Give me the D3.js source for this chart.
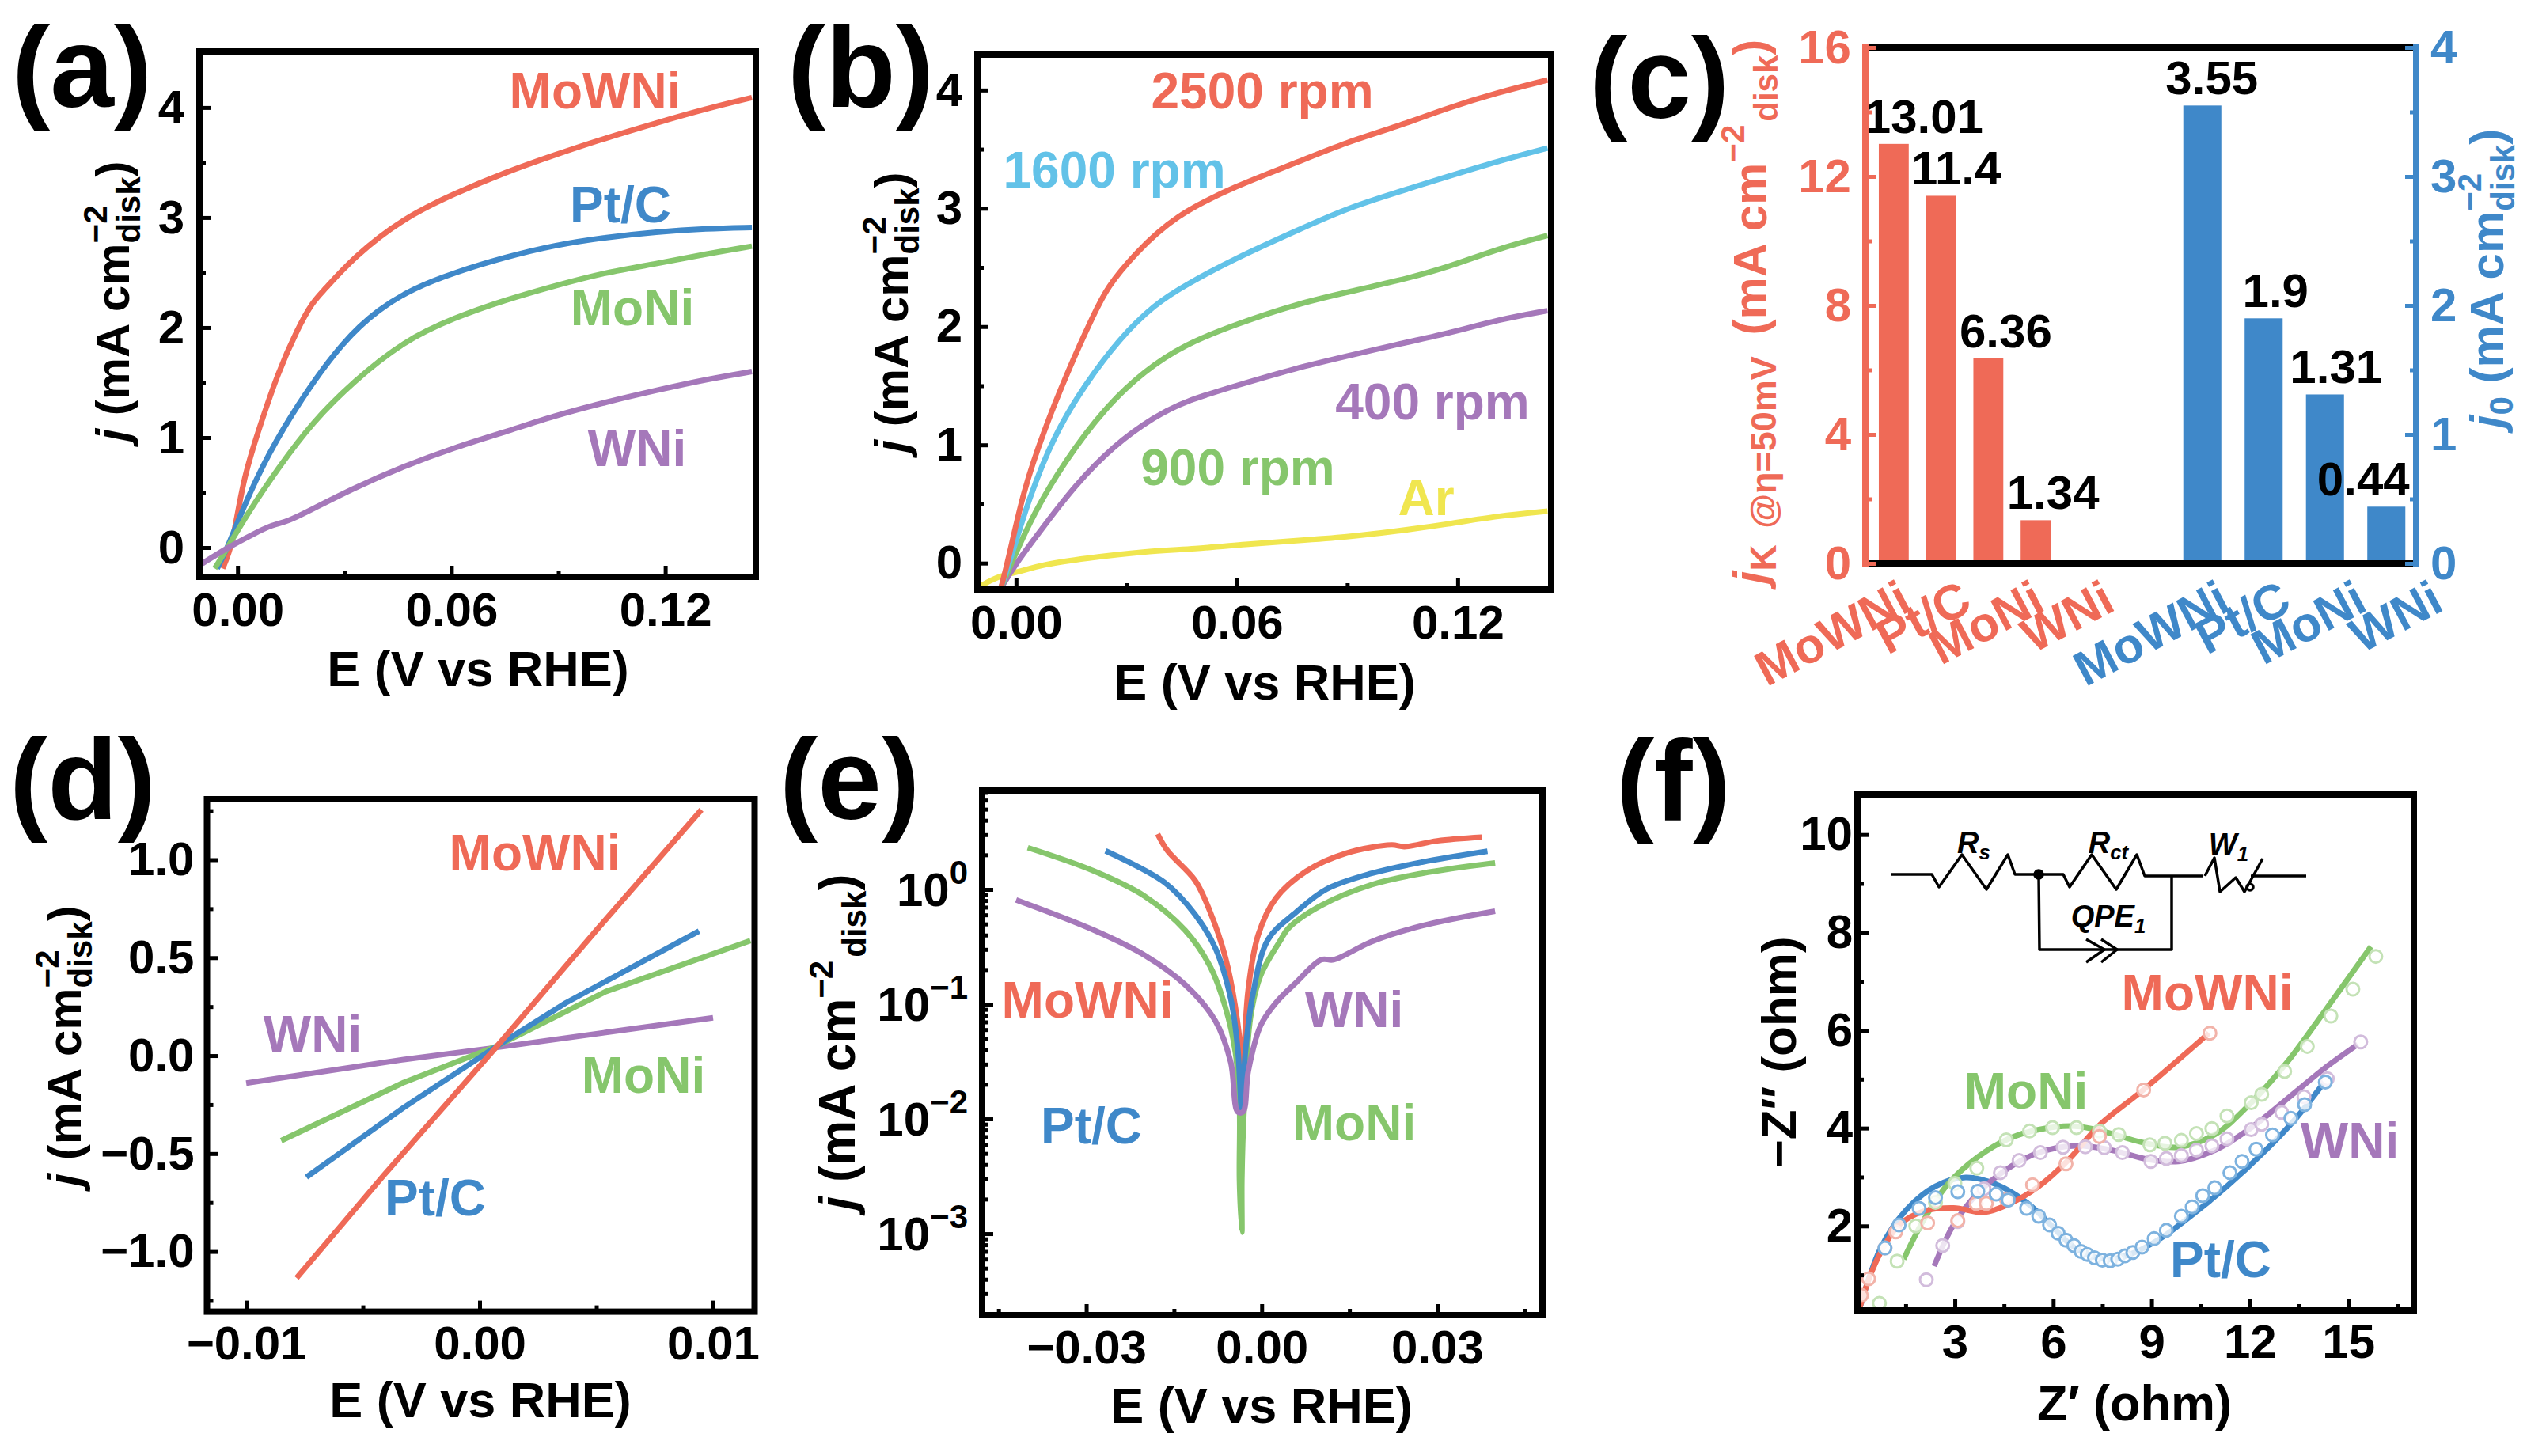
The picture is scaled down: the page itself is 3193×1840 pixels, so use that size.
<!DOCTYPE html>
<html>
<head>
<meta charset="utf-8">
<script src="https://cdn.jsdelivr.net/npm/d3@7"></script>
<style>
  html, body { margin: 0; padding: 0; background: #fff; }
  svg { display: block; }
  text { font-family: "Liberation Sans", Arial, sans-serif; font-weight: bold; }
</style>
</head>
<body>
<script>
// panel (a) E vs j
var aMoWNi = [[-0.0042,-0.19],[-0.0014,0.02],[0.0014,0.6],[0.0057,1.05],[0.0113,1.59],[0.017,2.0],[0.021,2.23],[0.024,2.33],[0.0325,2.64],[0.0467,3.0],[0.061,3.22],[0.075,3.41],[0.089,3.57],[0.103,3.72],[0.1175,3.86],[0.1316,3.99],[0.1443,4.09]];
var aPtC = [[-0.0057,-0.19],[-0.0028,0],[0.0014,0.35],[0.0085,0.85],[0.0184,1.38],[0.0297,1.88],[0.0396,2.17],[0.0495,2.36],[0.0608,2.5],[0.075,2.64],[0.089,2.75],[0.103,2.82],[0.1175,2.87],[0.1316,2.9],[0.1443,2.91]];
var aMoNi = [[-0.0064,-0.19],[-0.0028,0],[0.0028,0.31],[0.0113,0.72],[0.021,1.14],[0.0325,1.51],[0.0467,1.88],[0.0608,2.09],[0.075,2.25],[0.089,2.38],[0.103,2.5],[0.1175,2.58],[0.1316,2.67],[0.1443,2.74]];
var aWNi = [[-0.0099,-0.145],[-0.0028,0],[0.0042,0.12],[0.0099,0.21],[0.014,0.235],[0.021,0.35],[0.0325,0.54],[0.0467,0.74],[0.0608,0.91],[0.075,1.05],[0.089,1.2],[0.103,1.32],[0.1175,1.43],[0.1316,1.53],[0.1443,1.6]];

// panel (b) rotation speeds
var b2500 = [[-0.0041,-0.21],[-0.002,0.04],[0.002,0.615],[0.0075,1.115],[0.0144,1.65],[0.0213,2.115],[0.0247,2.33],[0.0322,2.615],[0.0432,2.94],[0.0597,3.19],[0.0761,3.385],[0.0898,3.56],[0.1035,3.69],[0.1173,3.85],[0.131,3.98],[0.1444,4.085]];
var b1600 = [[-0.0041,-0.21],[-0.0014,0.04],[0.0034,0.54],[0.0103,1.08],[0.0185,1.5],[0.0281,1.9],[0.0377,2.19],[0.0459,2.35],[0.0597,2.58],[0.0761,2.81],[0.0898,3.0],[0.1035,3.135],[0.1173,3.27],[0.131,3.4],[0.1444,3.51]];
var b900 = [[-0.0041,-0.21],[-0.0007,0.04],[0.0048,0.42],[0.013,0.85],[0.024,1.31],[0.035,1.63],[0.0459,1.85],[0.0597,2.02],[0.0761,2.19],[0.0898,2.29],[0.1035,2.385],[0.1173,2.5],[0.131,2.66],[0.1444,2.77]];
var b400 = [[-0.0041,-0.21],[0,0],[0.0075,0.31],[0.0158,0.65],[0.0267,1.0],[0.0377,1.24],[0.0459,1.37],[0.0597,1.5],[0.0761,1.65],[0.0898,1.75],[0.1035,1.85],[0.1173,1.94],[0.131,2.06],[0.1444,2.135]];
var bAr = [[-0.01,-0.2],[-0.0048,-0.11],[0,-0.08],[0.0075,-0.01],[0.0185,0.04],[0.035,0.1],[0.0487,0.12],[0.0624,0.16],[0.0761,0.19],[0.0898,0.22],[0.1035,0.27],[0.1173,0.33],[0.131,0.4],[0.1444,0.44]];

// panel (c) bars
var cCategories = ["MoWNi", "Pt/C", "MoNi", "WNi"];
var cKinetic = [13.01, 11.4, 6.36, 1.34];
var cExchange = [3.55, 1.9, 1.31, 0.44];
var cKineticText = ["13.01", "11.4", "6.36", "1.34"];
var cExchangeText = ["3.55", "1.9", "1.31", "0.44"];

// panel (d) micro polarization
var dMoWNi = [[-0.00784,-1.135],[-0.0041,-0.61],[0.00076,0.05],[0.005,0.64],[0.0095,1.255]];
var dPtC = [[-0.00742,-0.62],[-0.00325,-0.265],[0.00076,0.05],[0.0037,0.27],[0.0094,0.636]];
var dMoNi = [[-0.0085,-0.434],[-0.00325,-0.137],[0.00076,0.05],[0.0054,0.327],[0.0116,0.587]];
var dWNi = [[-0.01,-0.14],[-0.00325,-0.02],[0.00076,0.042],[0.0054,0.118],[0.01,0.193]];

// panel (e) Tafel, runs down the left branch and back up the right one
var eMoWNi = [[-0.0178,3.04],[-0.0161,2.17],[-0.0114,1.2],[-0.0088,0.634],[-0.0062,0.255],[-0.0045,0.0936],[-0.0036,0.038],[-0.0034,0.0115],[-0.003,0.038],[-0.0023,0.135],[-0.0006,0.402],[0.0024,0.834],[0.0076,1.44],[0.0145,2.07],[0.0222,2.44],[0.0244,2.36],[0.03,2.65],[0.0376,2.85]];
var ePtC = [[-0.0267,2.17],[-0.0166,1.15],[-0.0114,0.606],[-0.0079,0.306],[-0.0053,0.112],[-0.0041,0.0412],[-0.0034,0.0115],[-0.0028,0.038],[-0.0015,0.123],[0.0011,0.367],[0.0059,0.634],[0.011,1.0],[0.0188,1.38],[0.0274,1.73],[0.0386,2.15]];
var eMoNi = [[-0.04,2.31],[-0.0286,1.44],[-0.02,0.873],[-0.0131,0.44],[-0.0088,0.212],[-0.0062,0.0935],[-0.0045,0.038],[-0.0038,0.0126],[-0.0038,0.00293],[-0.0034,0.00103],[-0.0034,0.00293],[-0.003,0.0126],[-0.0019,0.078],[-0.0002,0.177],[0.0033,0.367],[0.0046,0.461],[0.0102,0.726],[0.0188,1.1],[0.0274,1.38],[0.0399,1.7]];
var eWNi = [[-0.042,0.811],[-0.0286,0.44],[-0.02,0.267],[-0.0131,0.148],[-0.0079,0.0711],[-0.0053,0.0313],[-0.0041,0.0115],[-0.0032,0.0115],[-0.0023,0.0261],[-0.0002,0.065],[0.0024,0.1025],[0.0059,0.155],[0.0102,0.244],[0.0123,0.244],[0.0188,0.351],[0.0274,0.482],[0.0399,0.646]];

// panel (f) Nyquist fits
var fMoWNi = [[0.09,0.3],[0.37,0.9],[0.74,1.46],[1.3,2.02],[2.04,2.3],[2.96,2.37],[3.89,2.28],[4.63,2.44],[5.56,2.81],[6.48,3.36],[7.41,4.06],[8.71,4.76],[10.75,5.94]];
var fPtC = [[0.09,0.3],[0.74,1.55],[1.48,2.3],[2.41,2.81],[3.33,2.99],[4.26,2.85],[5.19,2.48],[5.93,2.02],[6.67,1.55],[7.6,1.32],[8.34,1.42],[9.26,1.74],[10.19,2.2],[11.3,2.81],[12.41,3.5],[13.34,4.15],[14.27,4.94]];
var fMoNi = [[1.44,1.32],[2.04,2.11],[2.78,2.85],[3.7,3.41],[4.63,3.78],[5.56,3.97],[6.67,4.04],[7.6,3.92],[8.71,3.71],[9.82,3.61],[10.93,3.87],[12.04,4.52],[13.15,5.36],[14.27,6.38],[15.69,7.71]];
var fWNi = [[2.37,1.18],[2.96,2.02],[3.7,2.67],[4.63,3.18],[5.56,3.5],[6.67,3.64],[7.78,3.55],[8.89,3.36],[9.82,3.32],[10.93,3.55],[12.04,4.01],[13.34,4.71],[14.27,5.22],[15.29,5.71]];

// panel (f) measured points
var fMoWNiPts = [[0.15,0.58],[0.37,0.92],[0.87,1.55],[1.2,1.88],[2.17,2.06],[3.09,2.11],[3.65,2.46],[3.96,2.46],[4.57,2.55],[5.37,2.84],[6.39,3.27],[7.41,3.83],[8.76,4.78],[10.78,5.94]];
var fPtCPts = [[0.87,1.55],[1.3,2.02],[1.91,2.36],[2.41,2.58],[3.09,2.7],[3.7,2.71],[4.26,2.65],[4.63,2.53],[5.19,2.36],[5.56,2.2],[5.89,2.02],[6.15,1.85],[6.39,1.71],[6.63,1.6],[6.85,1.48],[7.04,1.42],[7.26,1.35],[7.5,1.3],[7.74,1.29],[7.97,1.32],[8.19,1.39],[8.43,1.46],[8.71,1.57],[9.08,1.74],[9.45,1.91],[9.91,2.2],[10.24,2.39],[10.56,2.62],[10.93,2.78],[11.39,3.09],[11.76,3.32],[12.19,3.57],[12.69,3.86],[13.25,4.2],[13.67,4.48],[14.3,4.94]];
var fMoNiPts = [[0.7,0.42],[1.24,1.28],[1.81,2.0],[2.41,2.48],[3,2.87],[3.67,3.18],[4.57,3.76],[5.28,3.94],[5.98,4.01],[6.71,4.01],[7.41,3.94],[8,3.87],[8.95,3.66],[9.41,3.69],[9.91,3.75],[10.37,3.89],[10.84,3.99],[11.3,4.25],[12.04,4.52],[12.36,4.69],[13.06,5.16],[13.75,5.67],[14.47,6.29],[15.14,6.84],[15.84,7.51]];
var fWNiPts = [[2.13,0.9],[2.63,1.6],[3.09,2.09],[3.7,2.71],[3.89,2.76],[4.39,3.09],[4.96,3.34],[5.61,3.5],[6.3,3.61],[6.98,3.62],[7.56,3.6],[8.11,3.5],[8.98,3.32],[9.45,3.38],[9.91,3.44],[10.37,3.55],[10.84,3.64],[11.3,3.78],[12.04,3.97],[12.36,4.08],[12.97,4.32],[13.65,4.64],[14.36,5.01],[15.38,5.76]];

var RED = "#ef6a57", BLUE = "#3f88c9", GREEN = "#86c66c", PURPLE = "#a578ba", CYAN = "#62c2e8", YELLOW = "#f0e64f";

var svg = d3.select("body").append("svg")
  .attr("width", 3193)
  .attr("height", 1840)
  .attr("viewBox", "0 0 3193 1840");

var FS = 60;

function panelLabel(txt, x, y) {
  svg.append("text").attr("x", x).attr("y", y).attr("font-size", 145).attr("fill", "#000").text(txt);
}

function note(txt, x, y, color) {
  svg.append("text").attr("x", x).attr("y", y + 22).attr("text-anchor", "middle")
    .attr("font-size", 64).attr("fill", color).text(txt);
}

// rotated title made of tspans, dx and dy are relative like in svg
function rotated(parts, x, y, size, color) {
  var t = svg.append("text")
    .attr("transform", "translate(" + x + "," + y + ") rotate(-90)")
    .attr("text-anchor", "middle").attr("font-size", size).attr("fill", color);
  parts.forEach(function(p) {
    var s = t.append("tspan").text(p.t);
    if (p.i) s.attr("font-style", "italic");
    if (p.s) s.attr("font-size", p.s);
    if (p.dy) s.attr("dy", p.dy);
    if (p.dx) s.attr("dx", p.dx);
  });
}

// -2 sits over "disk" in most panels, next to it in (c) left and (e)
var mAdisk = [
  { t: " (mA cm" },
  { t: "\u22122", s: 42, dy: -28 },
  { t: "disk", s: 42, dy: 42, dx: -48 },
  { t: ")", dy: -14 }
];
var mAdiskFlat = [
  { t: " (mA cm" },
  { t: "\u22122", s: 42, dy: -28 },
  { t: "disk", s: 42, dy: 42, dx: 4 },
  { t: ")", dy: -14 }
];

function styleAxis(g, color) {
  g.selectAll(".domain").remove();
  g.selectAll("line").attr("stroke", color).attr("stroke-width", 5);
  g.selectAll("text").attr("font-size", FS).attr("fill", color)
    .attr("font-family", "Liberation Sans").attr("font-weight", "bold");
}

// frame, inward ticks, labels and axis title
function frame(o) {
  var x = o.x, y = o.y;
  var r = x.range(), b = y.range();
  var xg = svg.append("g").attr("transform", "translate(0," + b[0] + ")");
  xg.call(d3.axisBottom(x).tickValues(o.xTicks).tickSize(-14).tickPadding(o.xPad)
    .tickFormat(function(d) { return d3.format(o.xFmt)(d).replace("-", "\u2212"); }));
  styleAxis(xg, "#000");
  var xm = svg.append("g").attr("transform", "translate(0," + b[0] + ")");
  xm.call(d3.axisBottom(x).tickValues(o.xMinor).tickSize(-8).tickFormat(""));
  styleAxis(xm, "#000");
  var yg = svg.append("g").attr("transform", "translate(" + r[0] + ",0)");
  yg.call(d3.axisLeft(y).tickValues(o.yTicks).tickSize(-14).tickPadding(o.yPad)
    .tickFormat(o.yFmt || function(d) { return d3.format(o.yFmtS)(d).replace("-", "\u2212"); }));
  styleAxis(yg, "#000");
  var ym = svg.append("g").attr("transform", "translate(" + r[0] + ",0)");
  ym.call(d3.axisLeft(y).tickValues(o.yMinor).tickSize(-8).tickFormat(""));
  styleAxis(ym, "#000");
  svg.append("rect").attr("x", r[0]).attr("y", b[1]).attr("width", r[1] - r[0]).attr("height", b[0] - b[1])
    .attr("fill", "none").attr("stroke", "#000").attr("stroke-width", 8);
  svg.append("text").attr("x", o.xTitleX).attr("y", o.xTitleY).attr("text-anchor", "middle")
    .attr("font-size", 63).attr("fill", "#000").text(o.xTitle);
}

function curves(list, x, y, width, curve) {
  var line = d3.line().x(function(d) { return x(d[0]); }).y(function(d) { return y(d[1]); }).curve(curve);
  list.forEach(function(s) {
    svg.append("path").attr("d", line(s.data)).attr("fill", "none")
      .attr("stroke", s.color).attr("stroke-width", width)
      .attr("stroke-linejoin", "round");
  });
}

/* ---------- (a) ---------- */
var ax = d3.scaleLinear().domain([-0.0107, 0.1454]).range([252, 955]);
var ay = d3.scaleLinear().domain([-0.266, 4.51]).range([729, 65]);
curves([
  { data: aMoWNi, color: RED }, { data: aPtC, color: BLUE },
  { data: aMoNi, color: GREEN }, { data: aWNi, color: PURPLE }
], ax, ay, 7, d3.curveBasis);
frame({ x: ax, y: ay, xTicks: [0, 0.06, 0.12], xMinor: [0.03, 0.09], xFmt: ".2f", xPad: 19,
  yTicks: [0, 1, 2, 3, 4], yMinor: [0.5, 1.5, 2.5, 3.5], yFmtS: "d", yPad: 19,
  xTitle: "E (V vs RHE)", xTitleX: 604, xTitleY: 867 });
rotated([{ t: "j", i: 1 }].concat(mAdisk), 163, 381, FS, "#000");
note("MoWNi", 752, 115, RED); note("Pt/C", 784, 259, BLUE);
note("MoNi", 799, 389, GREEN); note("WNi", 805, 567, PURPLE);
panelLabel("(a)", 15, 135);

/* ---------- (b) ---------- */
var bx = d3.scaleLinear().domain([-0.0105, 0.1454]).range([1235, 1960]);
var by = d3.scaleLinear().domain([-0.223, 4.3]).range([745, 69]);
curves([
  { data: bAr, color: YELLOW }, { data: b400, color: PURPLE }, { data: b900, color: GREEN },
  { data: b1600, color: CYAN }, { data: b2500, color: RED }
], bx, by, 7, d3.curveBasis);
frame({ x: bx, y: by, xTicks: [0, 0.06, 0.12], xMinor: [0.03, 0.09], xFmt: ".2f", xPad: 19,
  yTicks: [0, 1, 2, 3, 4], yMinor: [0.5, 1.5, 2.5, 3.5], yFmtS: "d", yPad: 19,
  xTitle: "E (V vs RHE)", xTitleX: 1598, xTitleY: 884 });
rotated([{ t: "j", i: 1 }].concat(mAdisk), 1147, 395, FS, "#000");
note("2500 rpm", 1595, 115, RED); note("1600 rpm", 1408, 215, CYAN);
note("400 rpm", 1810, 508, PURPLE); note("900 rpm", 1564, 591, GREEN); note("Ar", 1802, 629, YELLOW);
panelLabel("(b)", 995, 135);

/* ---------- (c) ---------- */
var cL = 2357, cR = 3053, cT = 60, cB = 712;
var cyL = d3.scaleLinear().domain([0, 16]).range([cB, cT]);
var cyR = d3.scaleLinear().domain([0, 4]).range([cB, cT]);
var cxL = d3.scaleBand().domain(cCategories).range([2363, 2602]).paddingInner(0.367).paddingOuter(0.1835);
var cxR = d3.scaleBand().domain(cCategories).range([2744, 3054]).paddingInner(0.38).paddingOuter(0.19);

function bars(vals, texts, xs, ys, color, nudges, shifts) {
  svg.selectAll(null).data(vals).enter().append("rect")
    .attr("x", function(d, i) { return xs(cCategories[i]); })
    .attr("y", function(d) { return ys(d); })
    .attr("width", xs.bandwidth())
    .attr("height", function(d) { return ys(0) - ys(d); })
    .attr("fill", color);
  svg.selectAll(null).data(vals).enter().append("text")
    .attr("x", function(d, i) { return xs(cCategories[i]) + xs.bandwidth() / 2 + nudges[i]; })
    .attr("y", function(d) { return ys(d) - 14; })
    .attr("text-anchor", "middle").attr("font-size", FS).attr("fill", "#000")
    .text(function(d, i) { return texts[i]; });
  cCategories.forEach(function(c, i) {
    svg.append("text")
      .attr("transform", "translate(" + (xs(c) + xs.bandwidth() / 2 + shifts[i]) + ",770) rotate(-28)")
      .attr("text-anchor", "end").attr("font-size", 62).attr("fill", color).text(c);
  });
}
bars(cKinetic, cKineticText, cxL, cyL, RED, [38, 19, 22, 22], [25, 42, 74, 103]);
bars(cExchange, cExchangeText, cxR, cyR, BLUE, [12, 15, 14, -29], [38, 38, 56, 75]);

svg.append("line").attr("x1", cL).attr("x2", cR).attr("y1", cT).attr("y2", cT).attr("stroke", "#000").attr("stroke-width", 8);
svg.append("line").attr("x1", cL).attr("x2", cR).attr("y1", cB).attr("y2", cB).attr("stroke", "#000").attr("stroke-width", 8);

function cAxis(side, scale, ticks, minor, xpos, color) {
  var g = svg.append("g").attr("transform", "translate(" + xpos + ",0)");
  g.call(side(scale).tickValues(ticks).tickSize(-14).tickPadding(18).tickFormat(d3.format("d")));
  styleAxis(g, color);
  var m = svg.append("g").attr("transform", "translate(" + xpos + ",0)");
  m.call(side(scale).tickValues(minor).tickSize(-8).tickFormat(""));
  styleAxis(m, color);
  svg.append("line").attr("x1", xpos).attr("x2", xpos).attr("y1", cT - 4).attr("y2", cB + 4)
    .attr("stroke", color).attr("stroke-width", 8);
}
cAxis(d3.axisLeft, cyL, [0, 4, 8, 12, 16], [2, 6, 10, 14], cL, RED);
cAxis(d3.axisRight, cyR, [0, 1, 2, 3, 4], [0.5, 1.5, 2.5, 3.5], cR, BLUE);

rotated([
  { t: "j", i: 1 }, { t: "K", s: 46, dy: 12 }, { t: " @\u03b7=50mV", s: 45, dx: 8 },
  { t: " (mA cm", dy: -12, dx: 10 },
  { t: "\u22122", s: 42, dy: -28 },
  { t: "disk", s: 42, dy: 42, dx: 4 },
  { t: ")", dy: -14 }
], 2232, 394, FS, RED);
rotated([
  { t: "j", i: 1 }, { t: "0", s: 42, dy: 12 },
  { t: " (mA cm", dy: -12 },
  { t: "\u22122", s: 42, dy: -28 },
  { t: "disk", s: 42, dy: 42, dx: -48 },
  { t: ")", dy: -14 }
], 3163, 352, FS, BLUE);
panelLabel("(c)", 2008, 149);

/* ---------- (d) ---------- */
var dx = d3.scaleLinear().domain([-0.01168, 0.01178]).range([261.5, 953.5]);
var dy = d3.scaleLinear().domain([-1.307, 1.309]).range([1657.6, 1010]);
curves([
  { data: dWNi, color: PURPLE }, { data: dMoNi, color: GREEN },
  { data: dPtC, color: BLUE }, { data: dMoWNi, color: RED }
], dx, dy, 7, d3.curveLinear);
frame({ x: dx, y: dy, xTicks: [-0.01, 0, 0.01], xMinor: [-0.005, 0.005], xFmt: ".2f", xPad: 18,
  yTicks: [-1, -0.5, 0, 0.5, 1], yMinor: [-1.25, -0.75, -0.25, 0.25, 0.75, 1.25], yFmtS: ".1f", yPad: 16,
  xTitle: "E (V vs RHE)", xTitleX: 607, xTitleY: 1791 });
rotated([{ t: "j", i: 1 }].concat(mAdisk), 102, 1322, FS, "#000");
note("MoWNi", 676, 1078, RED); note("WNi", 395, 1307, PURPLE);
note("MoNi", 813, 1359, GREEN); note("Pt/C", 550, 1514, BLUE);
panelLabel("(d)", 12, 1035);

/* ---------- (e) ---------- */
var ex = d3.scaleLinear().domain([-0.0478, 0.048]).range([1241, 1949]);
var ey = d3.scaleLog().domain([Math.pow(10, -3.71), Math.pow(10, 0.862)]).range([1662, 999]);
var eDecades = [1, 0.1, 0.01, 0.001];
var eMinor = ey.ticks().filter(function(d) { return eDecades.indexOf(d) < 0; });
curves([
  { data: eMoNi, color: GREEN }, { data: eMoWNi, color: RED },
  { data: ePtC, color: BLUE }, { data: eWNi, color: PURPLE }
], ex, ey, 7, d3.curveCatmullRom.alpha(0.5));
frame({ x: ex, y: ey, xTicks: [-0.03, 0, 0.03], xMinor: [-0.045, -0.015, 0.015, 0.045], xFmt: ".2f", xPad: 18,
  yTicks: eDecades, yMinor: eMinor, yFmt: function() { return ""; }, yPad: 18,
  xTitle: "E (V vs RHE)", xTitleX: 1594, xTitleY: 1798 });
eDecades.forEach(function(d) {
  var t = svg.append("text").attr("x", 1223).attr("y", ey(d) + 21).attr("text-anchor", "end")
    .attr("font-size", FS).attr("fill", "#000");
  t.append("tspan").text("10");
  var e = Math.round(Math.log10(d));
  t.append("tspan").attr("font-size", 42).attr("dy", -28).text(e === 0 ? "0" : "\u2212" + (-e));
});
rotated([{ t: "j", i: 1 }].concat(mAdiskFlat), 1080, 1317, 64, "#000");
note("MoWNi", 1374, 1264, RED); note("WNi", 1711, 1276, PURPLE);
note("Pt/C", 1379, 1423, BLUE); note("MoNi", 1711, 1419, GREEN);
panelLabel("(e)", 985, 1035);

/* ---------- (f) ---------- */
var fx = d3.scaleLinear().domain([0.03, 17]).range([2347, 3050]);
var fy = d3.scaleLinear().domain([0.274, 10.82]).range([1656, 1004]);
curves([
  { data: fPtC, color: BLUE }, { data: fMoNi, color: GREEN },
  { data: fWNi, color: PURPLE }, { data: fMoWNi, color: RED }
], fx, fy, 7, d3.curveCatmullRom.alpha(0.5));
// the open circles are white inside, they cut the lines under them
[
  { data: fMoNiPts, color: "#c4e2b6" }, { data: fWNiPts, color: "#d2bcdc" },
  { data: fMoWNiPts, color: "#f2b3a9" }, { data: fPtCPts, color: "#7db2df" }
].forEach(function(s) {
  svg.selectAll(null).data(s.data).enter().append("circle")
    .attr("cx", function(d) { return fx(d[0]); })
    .attr("cy", function(d) { return fy(d[1]); })
    .attr("r", 8).attr("fill", "#fff").attr("fill-opacity", 0.8).attr("stroke", s.color).attr("stroke-width", 3);
});
frame({ x: fx, y: fy, xTicks: [3, 6, 9, 12, 15], xMinor: [1.5, 4.5, 7.5, 10.5, 13.5, 16.5], xFmt: "d", xPad: 17,
  yTicks: [2, 4, 6, 8, 10], yMinor: [1, 3, 5, 7, 9], yFmtS: "d", yPad: 6,
  xTitle: "Z\u2032 (ohm)", xTitleX: 2697, xTitleY: 1795 });
rotated([{ t: "\u2212Z\u2033 (ohm)" }], 2269, 1330, 62, "#000");
note("MoWNi", 2789, 1255, RED); note("MoNi", 2560, 1379, GREEN);
note("WNi", 2969, 1442, PURPLE); note("Pt/C", 2806, 1592, BLUE);
panelLabel("(f)", 2042, 1037);

// equivalent circuit inset, drawn in pixels since it is not data
var circuit = svg.append("g").attr("transform", "translate(2389,1105)")
  .attr("fill", "none").attr("stroke", "#000").attr("stroke-width", 3.5).attr("stroke-linejoin", "round");
var wire = d3.line();
[
  [[0, 0], [52, 0], [61, 16], [90, -25], [121, 19], [148, -25], [157, 0], [218, 0], [226, 16], [254, -25], [285, 19], [311, -25], [321, 2], [395, 2]],
  [[397, 2], [409, -21], [416, 22], [436, 4], [447, 22], [470, -20]],
  [[455, 2], [525, 2]],
  [[187, 0], [188, 95], [355, 95], [355, 2]],
  [[247, 82], [270, 95], [247, 111]],
  [[266, 82], [286, 95], [266, 111]]
].forEach(function(p) { circuit.append("path").attr("d", wire(p)); });
circuit.append("circle").attr("cx", 187).attr("cy", 0).attr("r", 5).attr("fill", "#000");
circuit.append("circle").attr("cx", 454).attr("cy", 16).attr("r", 4);

function sym(main, sub, x, y) {
  var t = svg.append("text").attr("x", x).attr("y", y).attr("text-anchor", "middle")
    .attr("font-size", 38).attr("font-style", "italic").attr("font-weight", "normal").attr("fill", "#000");
  t.append("tspan").text(main);
  t.append("tspan").attr("font-size", 26).attr("dy", 8).text(sub);
}
sym("R", "s", 2494, 1078);
sym("R", "ct", 2664, 1078);
sym("W", "1", 2816, 1080);
sym("QPE", "1", 2664, 1171);
</script>
</body>
</html>
